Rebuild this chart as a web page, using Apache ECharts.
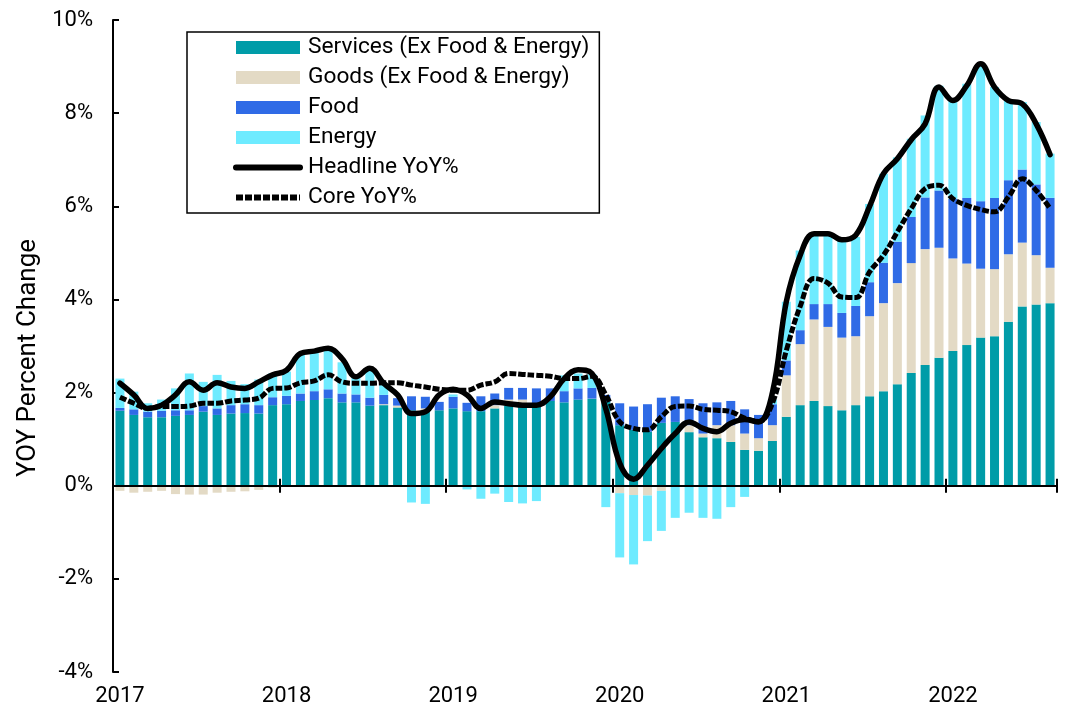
<!DOCTYPE html>
<html>
<head>
<meta charset="utf-8">
<title>CPI contributions</title>
<script src="https://cdn.jsdelivr.net/npm/echarts@6/dist/echarts.min.js"></script>
<style>
  html, body { margin: 0; padding: 0; background: #fff; }
  #chart { width: 1069px; height: 712px; }
</style>
</head>
<body>
<div id="chart"></div>
<script>
// monthly categories, Jan 2017 .. Aug 2022
const months = [];
for (let y = 2017; y <= 2022; y++) {
  for (let m = 1; m <= 12; m++) {
    if (y === 2022 && m > 8) break;
    months.push(y + '-' + (m < 10 ? '0' + m : m));
  }
}

// contributions (pct points)
const services = [
  1.61, 1.52, 1.47, 1.47, 1.50, 1.52, 1.59, 1.52, 1.55, 1.56, 1.55, 1.73,
  1.75, 1.82, 1.84, 1.88, 1.79, 1.79, 1.72, 1.73, 1.68, 1.62, 1.60, 1.62,
  1.66, 1.60, 1.60, 1.66, 1.73, 1.78, 1.73, 1.82, 1.79, 1.85, 1.87, 1.80,
  1.30, 1.20, 1.16, 1.35, 1.37, 1.15, 1.04, 1.02, 0.94, 0.77, 0.75, 0.96,
  1.48, 1.73, 1.82, 1.71, 1.62, 1.73, 1.92, 2.03, 2.18, 2.42, 2.59, 2.75,
  2.89, 3.02, 3.18, 3.21, 3.52, 3.85, 3.89, 3.92
];
const goods = [
  -0.11, -0.15, -0.13, -0.11, -0.18, -0.19, -0.19, -0.15, -0.13, -0.12, -0.09, -0.04,
  -0.02, -0.01, -0.01, 0, -0.01, 0, 0, 0.02, 0.04, 0, 0.06, 0,
  0, 0, 0, 0.07, 0.12, 0.07, 0.02, 0, 0, 0, 0, 0,
  -0.16, -0.20, -0.21, -0.11, 0, 0.15, 0.08, 0.28, 0.36, 0.35, 0.27, 0.34,
  0.89, 1.31, 1.75, 1.70, 1.56, 1.48, 1.72, 1.89, 2.17, 2.36, 2.49, 2.36,
  1.99, 1.75, 1.48, 1.44, 1.45, 1.37, 1.06, 0.76
];
const food = [
  0.06, 0.12, 0.12, 0.14, 0.12, 0.10, 0.12, 0.14, 0.18, 0.19, 0.18, 0.17,
  0.18, 0.16, 0.19, 0.19, 0.19, 0.17, 0.17, 0.20, 0.16, 0.30, 0.25, 0.18,
  0.25, 0.18, 0.32, 0.25, 0.25, 0.25, 0.34, 0.27, 0.24, 0.24, 0.23, 0.15,
  0.47, 0.50, 0.59, 0.54, 0.55, 0.56, 0.65, 0.49, 0.52, 0.52, 0.50, 0.45,
  0.32, 0.30, 0.33, 0.49, 0.53, 0.65, 0.73, 0.87, 0.89, 0.99, 1.11, 1.23,
  1.28, 1.41, 1.45, 1.53, 1.59, 1.57, 1.52, 1.50
];
const energy = [
  0.63, 0.38, 0.18, 0.24, 0.47, 0.79, 0.52, 0.72, 0.52, 0.43, 0.55, 0.51,
  0.52, 0.86, 0.85, 0.88, 0.67, 0.38, 0.59, 0.21, 0, -0.36, -0.39, -0.03,
  0.05, -0.08, -0.28, -0.17, -0.35, -0.38, -0.33, -0.02, 0.34, 0.32, 0.30, -0.46,
  -1.38, -1.49, -0.98, -0.86, -0.69, -0.58, -0.69, -0.71, -0.46, -0.24, 0, 0.10,
  1.26, 1.71, 1.51, 1.48, 1.56, 1.48, 1.68, 1.91, 1.81, 1.68, 1.76, 2.25,
  2.11, 2.45, 2.95, 2.38, 1.71, 1.45, 1.34, 0.95
];

// YoY lines (%)
const headline = [
  2.20, 1.95, 1.66, 1.73, 1.95, 2.23, 2.05, 2.21, 2.12, 2.09, 2.23, 2.38,
  2.48, 2.84, 2.89, 2.95, 2.73, 2.34, 2.52, 2.20, 1.95, 1.55, 1.59, 1.95,
  2.07, 1.95, 1.66, 1.80, 1.76, 1.73, 1.73, 1.91, 2.30, 2.49, 2.41, 1.65,
  0.48, 0.14, 0.44, 0.80, 1.12, 1.37, 1.23, 1.16, 1.34, 1.42, 1.37, 2.00,
  3.95, 4.95, 5.41, 5.41, 5.28, 5.38, 6.00, 6.70, 7.02, 7.43, 7.77, 8.56,
  8.27, 8.59, 9.06, 8.56, 8.27, 8.20, 7.77, 7.11
];
const core = [
  1.90, 1.77, 1.66, 1.70, 1.70, 1.71, 1.77, 1.77, 1.82, 1.84, 1.88, 2.09,
  2.10, 2.21, 2.25, 2.38, 2.23, 2.20, 2.20, 2.21, 2.21, 2.16, 2.12, 2.07,
  2.05, 2.05, 2.16, 2.23, 2.41, 2.39, 2.37, 2.35, 2.30, 2.30, 2.35, 1.95,
  1.37, 1.23, 1.20, 1.48, 1.70, 1.71, 1.64, 1.62, 1.59, 1.45, 1.38, 1.77,
  2.90, 3.85, 4.45, 4.35, 4.05, 4.04, 4.59, 4.95, 5.45, 5.95, 6.38, 6.45,
  6.16, 6.02, 5.93, 5.88, 6.20, 6.59, 6.34, 5.95
];

const font = 'Roboto, "Noto Sans", sans-serif';
const coreDash = [7, 2];
const chart = echarts.init(document.getElementById('chart'));

function barSeries(name, data, color) {
  return {
    name: name,
    type: 'bar',
    stack: 'cpi',
    data: data,
    barWidth: 9,
    itemStyle: { color: color },
    emphasis: { disabled: true }
  };
}

function lineSeries(name, data, type, width, cap) {
  return {
    name: name,
    type: 'line',
    data: data,
    smooth: 0.4,
    symbol: 'none',
    lineStyle: { color: '#000', width: width, type: type, cap: cap, join: 'round' },
    itemStyle: { color: '#000' },
    z: 4
  };
}

// hide the little marker ECharts puts in the middle of a line legend icon
const noMarker = { color: 'rgba(0,0,0,0)', borderWidth: 0, opacity: 0 };

const option = {
  backgroundColor: '#fff',
  animation: false,
  textStyle: { fontFamily: font },
  grid: { left: 113, right: 12, top: 20, bottom: 40 },
  legend: {
    orient: 'vertical',
    left: 187,
    top: 32,
    padding: [4, 10, 4, 46],
    borderColor: '#000',
    borderWidth: 1.5,
    itemWidth: 64,
    itemHeight: 13,
    itemGap: 7,
    textStyle: { fontSize: 22.7, color: '#000', fontFamily: font, lineHeight: 22, padding: [0, 0, 0, 3] },
    data: [
      { name: 'Services (Ex Food & Energy)', icon: 'rect' },
      { name: 'Goods (Ex Food & Energy)', icon: 'rect' },
      { name: 'Food', icon: 'rect' },
      { name: 'Energy', icon: 'rect' },
      { name: 'Headline YoY%', itemStyle: noMarker, lineStyle: { width: 6, type: 'solid', cap: 'round', color: '#000' } },
      { name: 'Core YoY%', itemStyle: noMarker, lineStyle: { width: 6, type: coreDash, cap: 'butt', color: '#000' } }
    ]
  },
  xAxis: [
    { // zero line with ticks pointing down
      type: 'category',
      data: months,
      position: 'bottom',
      z: 5,
      axisLine: { onZero: true, onZeroAxisIndex: 0, lineStyle: { color: '#000', width: 2 } },
      axisTick: { show: true, interval: 11, length: 7, lineStyle: { color: '#000', width: 2 } },
      axisLabel: { show: false }
    },
    { // same ticks pointing up
      type: 'category',
      data: months,
      position: 'bottom',
      z: 5,
      axisLine: { show: false, onZero: true, onZeroAxisIndex: 0 },
      axisTick: { show: true, inside: true, interval: 11, length: 7, lineStyle: { color: '#000', width: 2 } },
      axisLabel: { show: false }
    },
    { // year labels along the bottom
      type: 'category',
      data: months,
      position: 'bottom',
      axisLine: { show: false, onZero: false },
      axisTick: { show: false },
      axisLabel: {
        interval: 11,
        margin: 13,
        fontSize: 22,
        color: '#000',
        fontFamily: font,
        formatter: v => v.slice(0, 4)
      }
    }
  ],
  yAxis: {
    type: 'value',
    min: -4,
    max: 10,
    interval: 2,
    name: 'YOY Percent Change',
    nameLocation: 'middle',
    nameGap: 72,
    nameTextStyle: { fontSize: 26, color: '#000', fontFamily: font, padding: [0, 24, 0, 0] },
    axisLine: { show: true, lineStyle: { color: '#000', width: 2 } },
    axisTick: { show: true, inside: true, length: 6, lineStyle: { color: '#000', width: 2 } },
    axisLabel: { fontSize: 22, color: '#000', fontFamily: font, margin: 20, formatter: '{value}%' },
    splitLine: { show: false }
  },
  series: [
    barSeries('Services (Ex Food & Energy)', services, '#009ca8'),
    barSeries('Goods (Ex Food & Energy)', goods, '#e3dac5'),
    barSeries('Food', food, '#2f6be6'),
    barSeries('Energy', energy, '#6eebff'),
    lineSeries('Headline YoY%', headline, 'solid', 5.5, 'round'),
    lineSeries('Core YoY%', core, coreDash, 5, 'butt')
  ]
};

chart.setOption(option);
</script>
</body>
</html>
